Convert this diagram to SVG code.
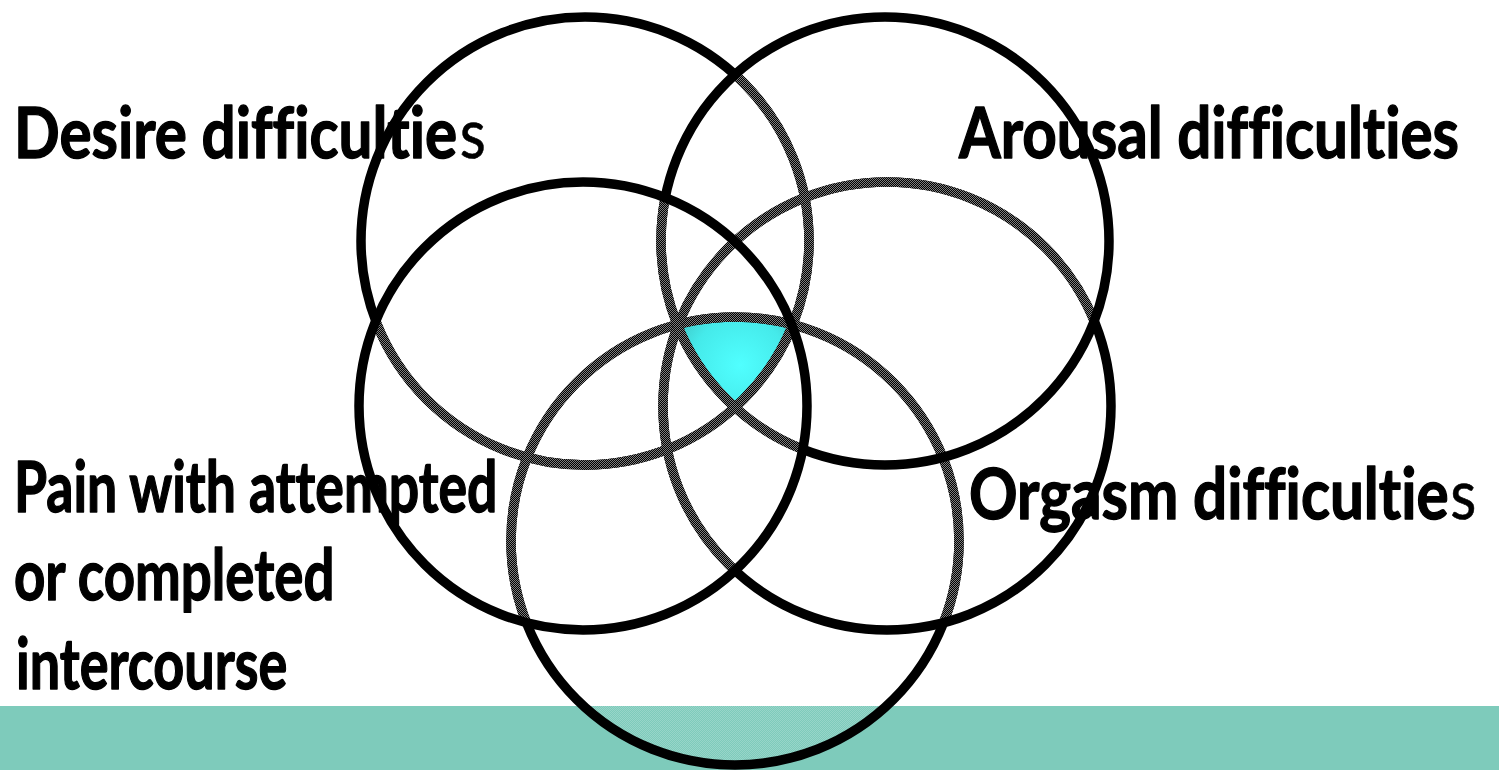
<svg xmlns="http://www.w3.org/2000/svg" width="1499" height="770" viewBox="0 0 1499 770">
<style>
.ring{fill:none;stroke:#000;stroke-width:9.5}
.hatch{stroke:url(#dither)}
.lbl{font-family:Lato,"Open Sans","Liberation Sans",sans-serif;font-weight:700;font-size:70px;fill:#000;stroke:#000;stroke-width:1.4;stroke-linejoin:round;font-variant-ligatures:none;font-feature-settings:"liga" 0,"clig" 0,"dlig" 0}
.reg{font-weight:400;stroke-width:0.6}
</style>
<defs>
<pattern id="dither" width="2" height="2" patternUnits="userSpaceOnUse">
<rect width="2" height="2" fill="#000"/>
<rect width="1" height="1" fill="#7e7e7e"/>
<rect x="1" y="1" width="1" height="1" fill="#7e7e7e"/>
</pattern>
<pattern id="ditherLight" width="2" height="2" patternUnits="userSpaceOnUse">
<rect width="1" height="1" fill="#fff" fill-opacity="0.2"/>
<rect x="1" y="1" width="1" height="1" fill="#fff" fill-opacity="0.2"/>
</pattern>
<radialGradient id="cyanGrad" cx="740" cy="365" r="80" gradientUnits="userSpaceOnUse">
<stop offset="0" stop-color="#50ffff"/>
<stop offset="0.6" stop-color="#45eaea"/>
<stop offset="1" stop-color="#3cc0c0"/>
</radialGradient>
<clipPath id="k1"><circle cx="585" cy="241" r="224"/></clipPath>
<clipPath id="k2"><circle cx="885" cy="241" r="224"/></clipPath>
<clipPath id="k3"><circle cx="583" cy="406" r="224"/></clipPath>
<clipPath id="k4"><circle cx="887" cy="406" r="224"/></clipPath>
<clipPath id="k5"><circle cx="735" cy="541" r="224"/></clipPath>
<clipPath id="after1">
<circle cx="735" cy="541" r="224"/><circle cx="887" cy="406" r="224"/><circle cx="885" cy="241" r="224"/><circle cx="583" cy="406" r="224"/>
</clipPath>
<clipPath id="after5">
<circle cx="887" cy="406" r="224"/><circle cx="885" cy="241" r="224"/><circle cx="583" cy="406" r="224"/>
</clipPath>
<clipPath id="after4">
<circle cx="885" cy="241" r="224"/><circle cx="583" cy="406" r="224"/>
</clipPath>
<clipPath id="after2">
<circle cx="583" cy="406" r="224"/>
</clipPath>
</defs>
<rect width="1499" height="770" fill="#fff"/>
<g id="bottom-bar">
<rect x="0" y="706" width="1499" height="64" fill="#7ecbbb"/>
<g clip-path="url(#k5)"><rect x="0" y="706" width="1499" height="64" fill="url(#ditherLight)"/></g>
</g>
<g id="center-overlap">
<g clip-path="url(#k1)"><g clip-path="url(#k2)"><g clip-path="url(#k3)"><g clip-path="url(#k4)">
<circle cx="735" cy="541" r="224" fill="url(#cyanGrad)"/>
</g></g></g></g>
</g>
<g id="connectors"/>
<g id="desire">
<circle class="ring" cx="585" cy="241" r="224"/>
<circle class="ring hatch" cx="585" cy="241" r="224" clip-path="url(#after1)"/>
<text class="lbl" transform="translate(14,158) scale(0.86,1)">Desire difficultie<tspan class="reg" dx="3">s</tspan></text>
</g>
<g id="bottom-circle">
<circle class="ring" cx="735" cy="541" r="224"/>
<circle class="ring hatch" cx="735" cy="541" r="224" clip-path="url(#after5)"/>
</g>
<g id="orgasm">
<circle class="ring" cx="887" cy="406" r="224"/>
<circle class="ring hatch" cx="887" cy="406" r="224" clip-path="url(#after4)"/>
<text class="lbl" transform="translate(969,519) scale(0.86,1)">Orgasm difficultie<tspan class="reg" dx="2">s</tspan></text>
</g>
<g id="arousal">
<circle class="ring" cx="885" cy="241" r="224"/>
<circle class="ring hatch" cx="885" cy="241" r="224" clip-path="url(#after2)"/>
<text class="lbl" transform="translate(959,158) scale(0.859,1)">Arousal difficulties</text>
</g>
<g id="pain">
<circle class="ring" cx="583" cy="406" r="224"/>
<text class="lbl" transform="translate(14,512) scale(0.765,1)">Pain with attempted</text>
<text class="lbl" transform="translate(14,600) scale(0.78,1)">or completed</text>
<text class="lbl" transform="translate(16,689) scale(0.771,1)">intercourse</text>
</g>
</svg>
